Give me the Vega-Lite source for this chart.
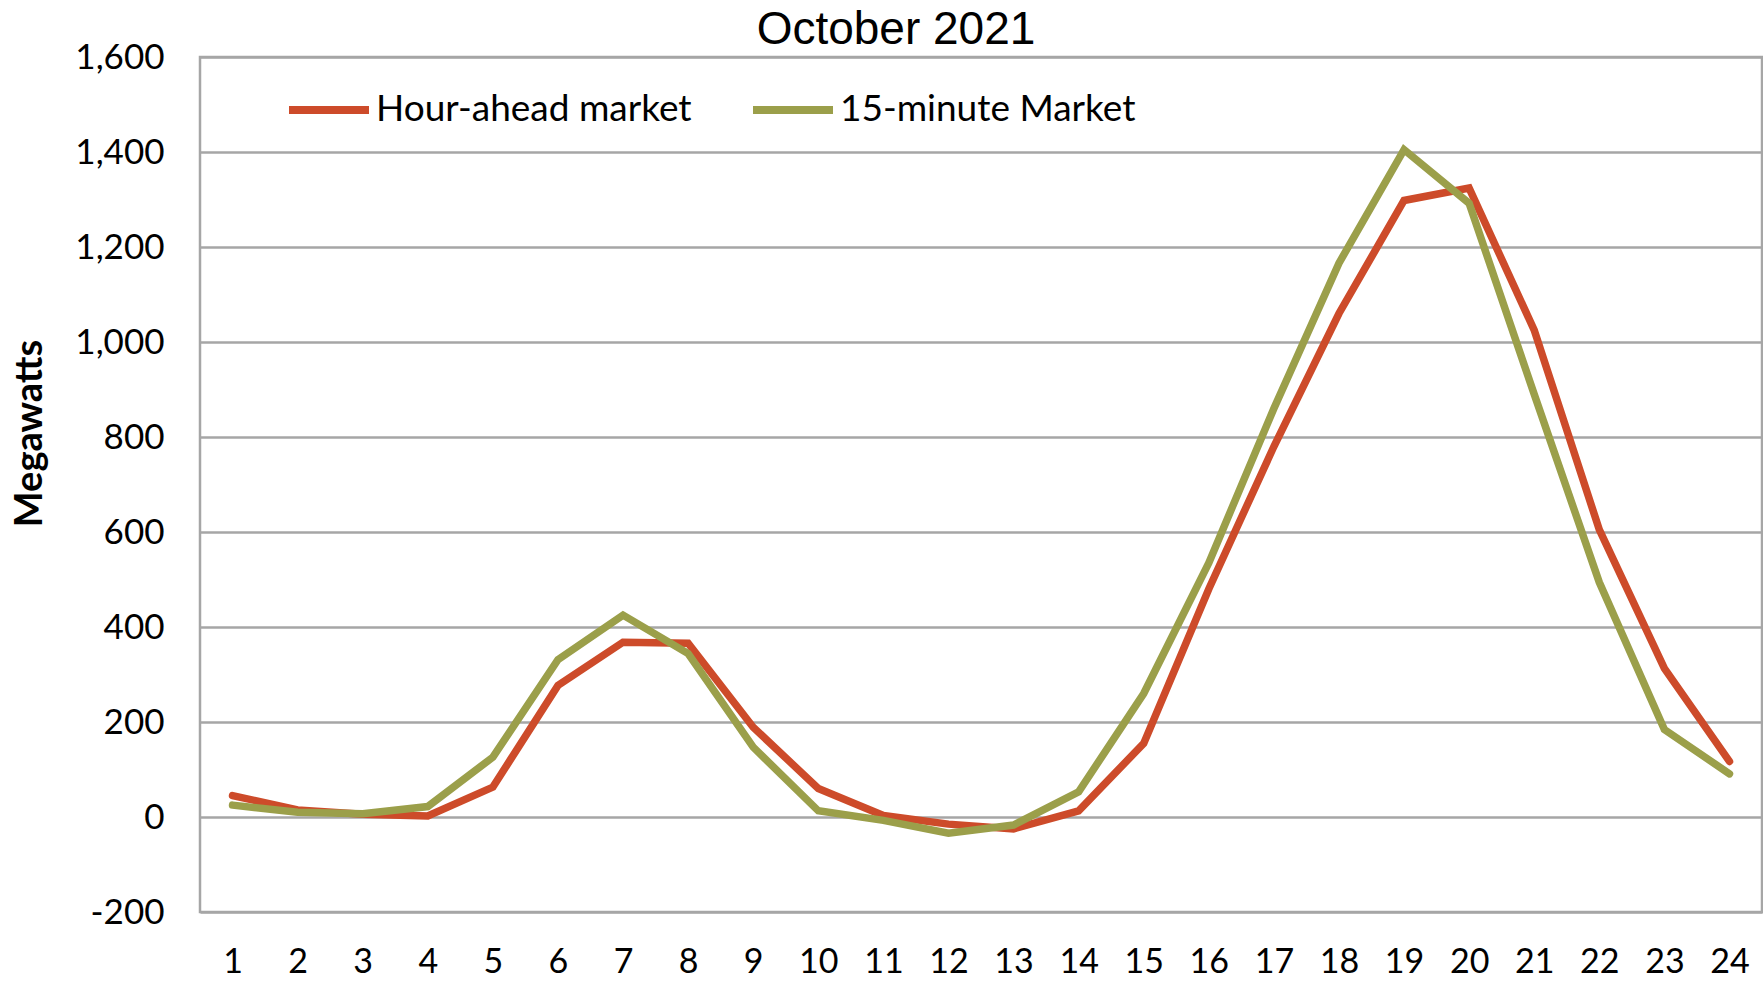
{
  "$schema": "https://vega.github.io/schema/vega-lite/v6.json",
  "width": 1562,
  "height": 855,
  "autosize": {"type": "none"},
  "padding": {"left": 200, "top": 57, "right": 1, "bottom": 70},
  "background": "white",
  "title": {
    "text": "October 2021",
    "font": "Liberation Sans",
    "fontSize": 46,
    "fontWeight": "normal",
    "color": "#000000",
    "anchor": "middle",
    "frame": "group",
    "dx": -85,
    "dy": 62,
    "offset": 12,
    "baseline": "alphabetic"
  },
  "config": {
    "view": {"stroke": "#A6A6A6", "strokeWidth": 2.5},
    "font": "Lato"
  },
  "data": {
    "values": [
      {"hour": 1, "series": "Hour-ahead market", "mw": 45},
      {"hour": 2, "series": "Hour-ahead market", "mw": 15},
      {"hour": 3, "series": "Hour-ahead market", "mw": 6},
      {"hour": 4, "series": "Hour-ahead market", "mw": 2},
      {"hour": 5, "series": "Hour-ahead market", "mw": 63},
      {"hour": 6, "series": "Hour-ahead market", "mw": 277},
      {"hour": 7, "series": "Hour-ahead market", "mw": 368},
      {"hour": 8, "series": "Hour-ahead market", "mw": 366},
      {"hour": 9, "series": "Hour-ahead market", "mw": 189},
      {"hour": 10, "series": "Hour-ahead market", "mw": 60},
      {"hour": 11, "series": "Hour-ahead market", "mw": 3},
      {"hour": 12, "series": "Hour-ahead market", "mw": -15},
      {"hour": 13, "series": "Hour-ahead market", "mw": -25},
      {"hour": 14, "series": "Hour-ahead market", "mw": 13},
      {"hour": 15, "series": "Hour-ahead market", "mw": 155},
      {"hour": 16, "series": "Hour-ahead market", "mw": 480},
      {"hour": 17, "series": "Hour-ahead market", "mw": 780},
      {"hour": 18, "series": "Hour-ahead market", "mw": 1060},
      {"hour": 19, "series": "Hour-ahead market", "mw": 1298},
      {"hour": 20, "series": "Hour-ahead market", "mw": 1324},
      {"hour": 21, "series": "Hour-ahead market", "mw": 1025},
      {"hour": 22, "series": "Hour-ahead market", "mw": 605},
      {"hour": 23, "series": "Hour-ahead market", "mw": 313},
      {"hour": 24, "series": "Hour-ahead market", "mw": 117},
      {"hour": 1, "series": "15-minute Market", "mw": 25},
      {"hour": 2, "series": "15-minute Market", "mw": 10},
      {"hour": 3, "series": "15-minute Market", "mw": 7},
      {"hour": 4, "series": "15-minute Market", "mw": 22},
      {"hour": 5, "series": "15-minute Market", "mw": 126},
      {"hour": 6, "series": "15-minute Market", "mw": 331},
      {"hour": 7, "series": "15-minute Market", "mw": 425},
      {"hour": 8, "series": "15-minute Market", "mw": 344},
      {"hour": 9, "series": "15-minute Market", "mw": 147},
      {"hour": 10, "series": "15-minute Market", "mw": 13},
      {"hour": 11, "series": "15-minute Market", "mw": -7},
      {"hour": 12, "series": "15-minute Market", "mw": -34},
      {"hour": 13, "series": "15-minute Market", "mw": -17},
      {"hour": 14, "series": "15-minute Market", "mw": 53},
      {"hour": 15, "series": "15-minute Market", "mw": 260},
      {"hour": 16, "series": "15-minute Market", "mw": 535},
      {"hour": 17, "series": "15-minute Market", "mw": 860},
      {"hour": 18, "series": "15-minute Market", "mw": 1166},
      {"hour": 19, "series": "15-minute Market", "mw": 1405},
      {"hour": 20, "series": "15-minute Market", "mw": 1292},
      {"hour": 21, "series": "15-minute Market", "mw": 890},
      {"hour": 22, "series": "15-minute Market", "mw": 494},
      {"hour": 23, "series": "15-minute Market", "mw": 184},
      {"hour": 24, "series": "15-minute Market", "mw": 91}
    ]
  },
  "encoding": {
    "x": {
      "field": "hour",
      "type": "ordinal",
      "scale": {"type": "point", "padding": 0.5},
      "axis": {
        "title": null,
        "labelAngle": 0,
        "labelFontSize": 34,
        "labelColor": "#000000",
        "labelPadding": 33,
        "ticks": false,
        "domain": false,
        "grid": false
      }
    },
    "y": {
      "field": "mw",
      "type": "quantitative",
      "scale": {"domain": [-200, 1600], "nice": false, "zero": false},
      "axis": {
        "values": [-200, 0, 200, 400, 600, 800, 1000, 1200, 1400, 1600],
        "labelExpr": "datum.value < 0 ? '-' + format(-datum.value, ',') : format(datum.value, ',')",
        "labelFontSize": 35,
        "labelColor": "#000000",
        "labelPadding": 36,
        "ticks": false,
        "domain": false,
        "grid": true,
        "gridColor": "#A6A6A6",
        "gridWidth": 2.5,
        "title": "Megawatts",
        "titleFontSize": 38,
        "titleFontWeight": "bold",
        "titleColor": "#000000",
        "titleAngle": -90,
        "titleAlign": "center",
        "titleBaseline": "middle",
        "titleX": -170,
        "titleY": 376
      }
    },
    "color": {
      "field": "series",
      "type": "nominal",
      "scale": {
        "domain": ["Hour-ahead market", "15-minute Market"],
        "range": ["#CD4B2A", "#9B9F4A"]
      },
      "legend": {
        "title": null,
        "orient": "none",
        "legendX": 85,
        "legendY": 9,
        "direction": "horizontal",
        "symbolType": "stroke",
        "symbolSize": 6400,
        "symbolStrokeWidth": 8,
        "labelFontSize": 37,
        "labelColor": "#000000",
        "labelOffset": 3,
        "labelLimit": 0,
        "columnPadding": 45
      }
    }
  },
  "layer": [
    {
      "transform": [{"filter": "datum.series === 'Hour-ahead market'"}],
      "mark": {"type": "line", "strokeWidth": 7.5, "strokeJoin": "miter", "strokeCap": "round"}
    },
    {
      "transform": [{"filter": "datum.series === '15-minute Market'"}],
      "mark": {"type": "line", "strokeWidth": 7.5, "strokeJoin": "miter", "strokeCap": "round"}
    }
  ]
}
